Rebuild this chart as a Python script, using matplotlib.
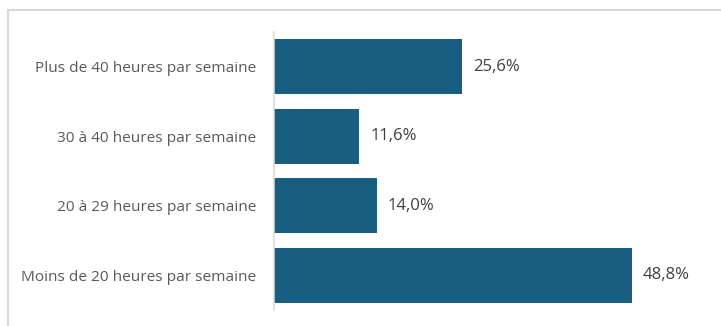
import matplotlib
matplotlib.use("Agg")
import matplotlib.pyplot as plt
from matplotlib.patches import Rectangle

categories = ["Plus de 40 heures par semaine", "30 à 40 heures par semaine",
              "20 à 29 heures par semaine", "Moins de 20 heures par semaine"]
values = [25.6, 11.6, 14.0, 48.8]
value_labels = ["25,6%", "11,6%", "14,0%", "48,8%"]

W, H = 721, 326
fig = plt.figure(figsize=(W / 100, H / 100), dpi=100)
fig.patch.set_facecolor("white")

# light frame (left/top visible)
fig.add_artist(Rectangle((8 / W, -0.1), 1.2, (H - 10) / H + 0.1, transform=fig.transFigure,
                         fill=False, edgecolor="#d9d9d9", linewidth=1.5))

ax = fig.add_axes([274 / W, (H - 310) / H, (714 - 274) / W, (310 - 32) / H])
pos = list(range(len(categories)))
ax.barh(pos, values, height=0.79, color="#175e80")
ax.set_ylim(3.5, -0.5)
ax.set_xlim(0, 60)
ax.set_yticks(pos)
ax.set_yticklabels(categories, fontsize=11.1, color="#595959", family="Open Sans")
ax.tick_params(axis="y", length=0, pad=13)
ax.set_xticks([])
for s in ["top", "right", "bottom"]:
    ax.spines[s].set_visible(False)
ax.spines["left"].set_color("#d9d9d9")
ax.spines["left"].set_linewidth(1.2)
ax.set_facecolor("none")
for p, v, lab in zip(pos, values, value_labels):
    ax.annotate(lab, (v, p), xytext=(11, 0), textcoords="offset pixels",
                va="center", ha="left", fontsize=12, color="#404040", family="Open Sans")

fig.savefig("out.png", dpi=100)
